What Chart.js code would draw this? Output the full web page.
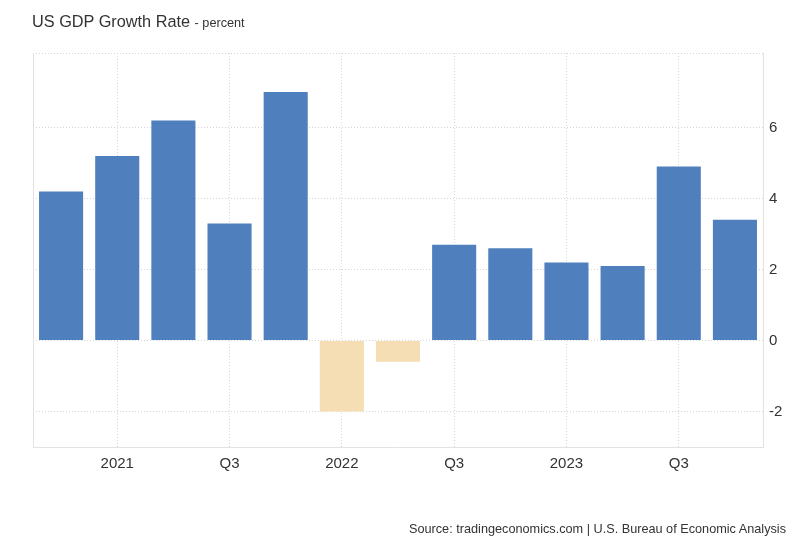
<!DOCTYPE html>
<html>
<head>
<meta charset="utf-8">
<script src="https://cdn.jsdelivr.net/npm/chart.js@4"></script>
<style>
  html, body { margin: 0; padding: 0; background: #fff; }
  #wrap { position: relative; width: 800px; height: 547px; font-family: "Liberation Sans", Arial, sans-serif; }
  #title { position: absolute; left: 32px; top: 12px; font-size: 16.3px; color: #333; white-space: nowrap; }
  #title small { font-size: 12.7px; }
  #source { position: absolute; right: 14px; top: 522px; font-size: 12.7px; color: #333; white-space: nowrap; }
  canvas { position: absolute; left: 0; top: 0; }
</style>
</head>
<body>
<div id="wrap">
  <canvas id="c" width="800" height="547"></canvas>
  <div id="title">US GDP Growth Rate <small>- percent</small></div>
  <div id="source">Source: tradingeconomics.com | U.S. Bureau of Economic Analysis</div>
</div>
<script>
const categories = ["Q4 2020","Q1 2021","Q2 2021","Q3 2021","Q4 2021","Q1 2022","Q2 2022","Q3 2022","Q4 2022","Q1 2023","Q2 2023","Q3 2023","Q4 2023"];
const xTickLabels = ["","2021","","Q3","","2022","","Q3","","2023","","Q3",""];
const gdpGrowth = [4.2, 5.2, 6.2, 3.3, 7.0, -2.0, -0.6, 2.7, 2.6, 2.2, 2.1, 4.9, 3.4];
const yTickValues = [-3, -2, 0, 2, 4, 6, 8.1];
const yTickLabels = ["", "-2", "0", "2", "4", "6", ""];

const posColor = "#4f80bd";
const negColor = "#f5deb3";
const gridColor = "#d6d6d6";
const borderColor = "#e2e2e2";

new Chart(document.getElementById("c"), {
  type: "bar",
  data: {
    labels: categories,
    datasets: [{
      data: gdpGrowth,
      backgroundColor: gdpGrowth.map(v => v >= 0 ? posColor : negColor),
      borderWidth: 0,
      barPercentage: 0.785,
      categoryPercentage: 1.0
    }]
  },
  options: {
    responsive: false,
    animation: false,
    devicePixelRatio: 1,
    layout: { padding: { left: 33, right: 0, top: 53, bottom: 0 } },
    plugins: { legend: { display: false }, tooltip: { enabled: false }, title: { display: false } },
    scales: {
      x: {
        position: "bottom",
        offset: true,
        grid: {
          offset: false,
          drawTicks: false,
          color: ctx => (ctx.type === "tick" && xTickLabels[ctx.index]) ? gridColor : "rgba(0,0,0,0)",
          lineWidth: 1
        },
        border: { display: true, color: borderColor, width: 1, dash: [1, 2] },
        ticks: {
          autoSkip: false,
          maxRotation: 0,
          padding: 8,
          color: "#333",
          font: { family: "'Liberation Sans', Arial, sans-serif", size: 15 },
          callback: (val, i) => xTickLabels[i]
        },
        afterFit: s => { s.height = 100; }
      },
      y: {
        position: "right",
        min: -3,
        max: 8.1,
        afterBuildTicks: s => { s.ticks = yTickValues.map(v => ({ value: v })); },
        grid: {
          drawTicks: false,
          color: ctx => (ctx.tick && ctx.tick.value === -3) ? "rgba(0,0,0,0)" : gridColor,
          lineWidth: 1
        },
        border: { display: true, color: borderColor, width: 1, dash: [1, 2] },
        ticks: {
          padding: 6,
          color: "#333",
          font: { family: "'Liberation Sans', Arial, sans-serif", size: 15 },
          callback: (val, i) => yTickLabels[i]
        },
        afterFit: s => { s.width = 37; }
      },
      yLeft: {
        position: "left",
        min: -3,
        max: 8.1,
        grid: { display: false, drawTicks: false },
        border: { display: true, color: borderColor, width: 1 },
        ticks: { display: false },
        afterFit: s => { s.width = 0; }
      }
    }
  }
});
</script>
</body>
</html>
